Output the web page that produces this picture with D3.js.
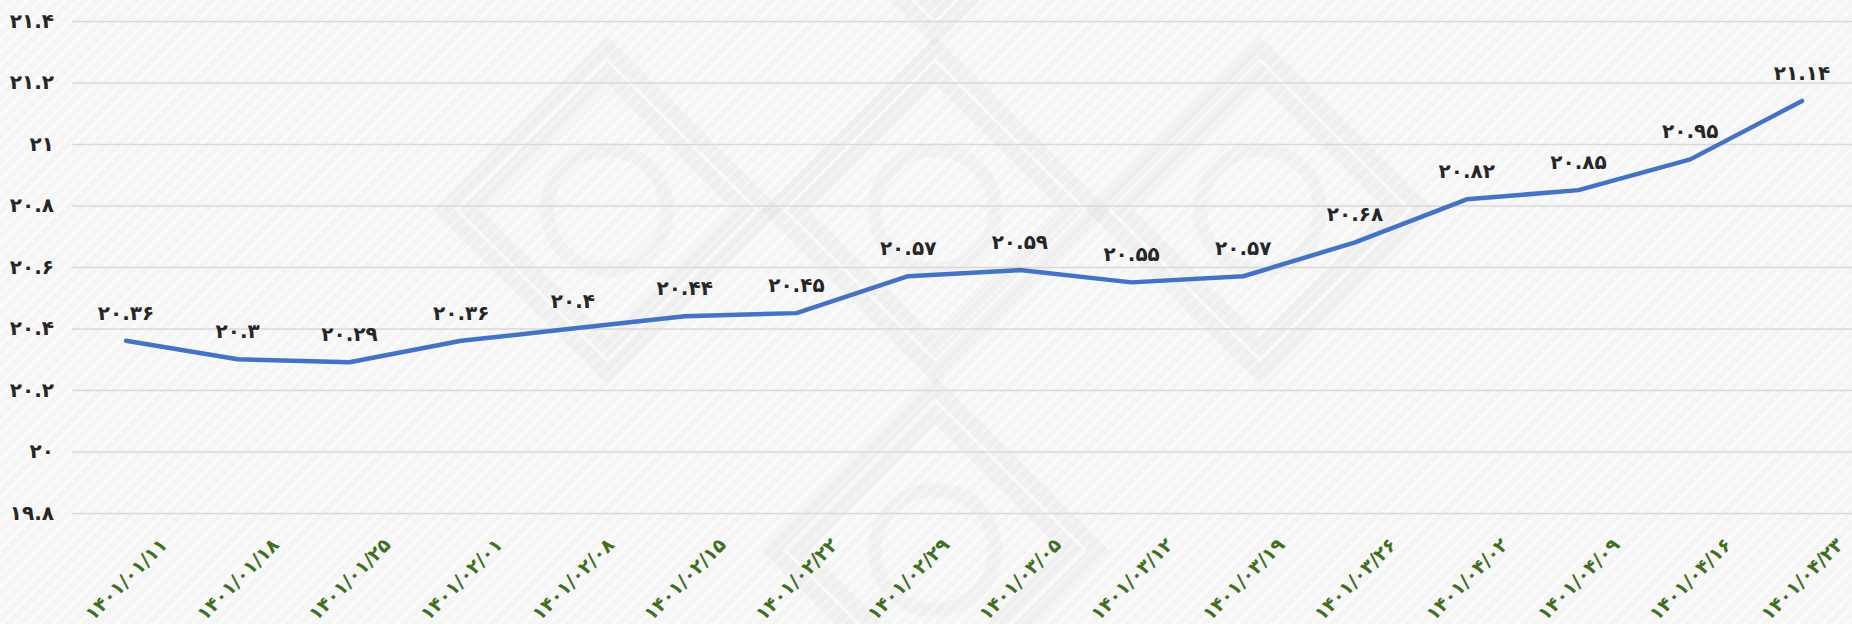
<!DOCTYPE html>
<html>
<head>
<meta charset="utf-8">
<script src="https://cdn.jsdelivr.net/npm/d3@7"></script>
<style>
  html, body { margin: 0; padding: 0; background: #f6f6f6; }
  svg { display: block; }
  text { font-family: "DejaVu Sans", "Noto Sans", sans-serif; }
</style>
</head>
<body>
<script>
// weekly dates (Persian calendar) and values
var dates = [
  "۱۴۰۱/۰۱/۱۱", "۱۴۰۱/۰۱/۱۸", "۱۴۰۱/۰۱/۲۵", "۱۴۰۱/۰۲/۰۱",
  "۱۴۰۱/۰۲/۰۸", "۱۴۰۱/۰۲/۱۵", "۱۴۰۱/۰۲/۲۲", "۱۴۰۱/۰۲/۲۹",
  "۱۴۰۱/۰۳/۰۵", "۱۴۰۱/۰۳/۱۲", "۱۴۰۱/۰۳/۱۹", "۱۴۰۱/۰۳/۲۶",
  "۱۴۰۱/۰۴/۰۲", "۱۴۰۱/۰۴/۰۹", "۱۴۰۱/۰۴/۱۶", "۱۴۰۱/۰۴/۲۳"
]
var values = [20.36, 20.3, 20.29, 20.36, 20.4, 20.44, 20.45, 20.57,
              20.59, 20.55, 20.57, 20.68, 20.82, 20.85, 20.95, 21.14]
var yTicks = [19.8, 20, 20.2, 20.4, 20.6, 20.8, 21, 21.2, 21.4]

var width = 1852
var height = 624
var faDigits = "۰۱۲۳۴۵۶۷۸۹"
function toFa(s) {
  return String(s).replace(/[0-9]/g, function(c) { return faDigits[+c] })
}

var svg = d3.select("body").append("svg")
  .attr("width", width)
  .attr("height", height)

// background stripes
var defs = svg.append("defs")
var pat = defs.append("pattern")
  .attr("id", "stripes")
  .attr("width", 9).attr("height", 9)
  .attr("patternUnits", "userSpaceOnUse")
  .attr("patternTransform", "rotate(45)")
pat.append("rect").attr("width", 9).attr("height", 9).attr("fill", "#f5f5f5")
pat.append("rect").attr("width", 3).attr("height", 9).attr("fill", "#fafafa")

svg.append("rect").attr("width", width).attr("height", height).attr("fill", "url(#stripes)")

// faint logo watermark
var marks = [[607, 210], [935, 210], [1260, 210], [935, -128], [935, 550]]
var wm = svg.append("g").attr("class", "watermark")
marks.forEach(function(m) {
  var g = wm.append("g").attr("transform", "translate(" + m[0] + "," + m[1] + ")")
  g.append("path")
    .attr("d", "M0,-150 L150,0 L0,150 L-150,0 Z")
    .attr("fill", "none")
    .attr("stroke", "#000").attr("stroke-opacity", 0.022)
    .attr("stroke-width", 34)
  g.append("path")
    .attr("d", "M0,-150 L150,0 L0,150 L-150,0 Z")
    .attr("fill", "none")
    .attr("stroke", "#fff").attr("stroke-opacity", 0.6)
    .attr("stroke-width", 3)
  g.append("circle")
    .attr("r", 60)
    .attr("fill", "none")
    .attr("stroke", "#000").attr("stroke-opacity", 0.018)
    .attr("stroke-width", 14)
})

var x = d3.scalePoint().domain(dates).range([126, 1802])
var y = d3.scaleLinear().domain([19.8, 21.4]).range([513, 21])

// y axis with gridlines
var yAxis = svg.append("g")
  .attr("transform", "translate(72,0)")
  .call(d3.axisLeft(y).tickValues(yTicks)
    .tickSize(-(width - 72)).tickPadding(18)
    .tickFormat(function(d) { return toFa(d3.format("~")(d)) }))
yAxis.select(".domain").remove()
yAxis.selectAll(".tick line").attr("stroke", "#d9d9d9").attr("stroke-width", 1.5)
yAxis.selectAll(".tick text")
  .attr("fill", "#262626")
  .attr("font-size", 20)
  .attr("font-weight", "bold")

// x axis labels, rotated
var xAxis = svg.append("g")
  .attr("transform", "translate(0,546)")
  .call(d3.axisBottom(x).tickSize(0).tickPadding(0))
xAxis.select(".domain").remove()
xAxis.selectAll(".tick text")
  .attr("y", 0).attr("dy", 0)
  .attr("transform", "translate(42,0) rotate(-45)")
  .attr("text-anchor", "end")
  .attr("fill", "#3f6f22")
  .attr("font-size", 19)
  .attr("font-weight", "bold")

// the line
var line = d3.line()
  .x(function(d, i) { return x(dates[i]) })
  .y(function(d) { return y(d) })

svg.append("path")
  .datum(values)
  .attr("d", line)
  .attr("fill", "none")
  .attr("stroke", "#4472c4")
  .attr("stroke-width", 4.5)
  .attr("stroke-linejoin", "round")
  .attr("stroke-linecap", "round")

// value labels
svg.append("g").selectAll("text")
  .data(values)
  .enter().append("text")
  .attr("x", function(d, i) { return x(dates[i]) })
  .attr("y", function(d) { return y(d) - 21 })
  .attr("text-anchor", "middle")
  .attr("fill", "#262626")
  .attr("font-size", 20)
  .attr("font-weight", "bold")
  .text(function(d) { return toFa(d) })
</script>
</body>
</html>
